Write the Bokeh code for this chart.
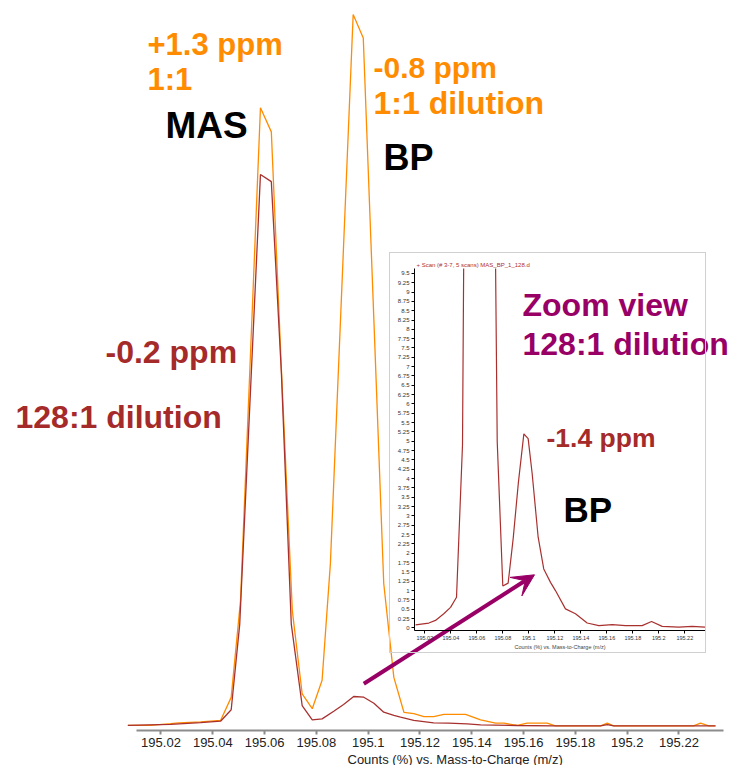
from bokeh.plotting import figure
from bokeh.models import (Range1d, LinearAxis, FixedTicker, NumeralTickFormatter,
                          Label, Arrow, VeeHead, Title)
from bokeh.embed import file_html
from bokeh.resources import INLINE

# ---------------- data (main chart, counts in % of base peak) ----------------
mz_1to1 = [195.0072, 195.0160, 195.0237, 195.0268, 195.0353, 195.0430, 195.0471,
           195.0507, 195.0584, 195.0626, 195.0665, 195.0707, 195.0745, 195.0784,
           195.0822, 195.0854, 195.0942, 195.0981, 195.1022, 195.1060, 195.1099,
           195.1138, 195.1176, 195.1215, 195.1253, 195.1292, 195.1376, 195.1434,
           195.1492, 195.1524, 195.1575, 195.1614, 195.1691, 195.1723, 195.1897,
           195.1923, 195.1948, 195.2256, 195.2283, 195.2315, 195.2341]
cnt_1to1 = [0.05, 0.05, 0.3, 0.42, 0.55, 0.75, 4.0,
            17.6, 86.9, 83.5, 50.0, 16.2, 4.5, 2.4,
            6.4, 22.8, 100.0, 96.7, 57.0, 20.0, 6.8,
            1.9, 1.7, 1.3, 1.3, 1.6, 1.6, 0.84,
            0.37, 0.37, 0.05, 0.37, 0.37, 0.0, 0.0,
            0.37, 0.0, 0.0, 0.37, 0.0, 0.0]

mz_128 = [195.0072, 195.0237, 195.0353, 195.0430, 195.0471, 195.0504, 195.0584,
          195.0626, 195.0665, 195.0703, 195.0745, 195.0784, 195.0822, 195.0867,
          195.0905, 195.0944, 195.0983, 195.1022, 195.1060, 195.1099, 195.1125,
          195.1176, 195.1253, 195.1310, 195.1382, 195.1434, 195.1575, 195.1717,
          195.1897, 195.1923, 195.1948, 195.2341]
cnt_128 = [0.05, 0.2, 0.45, 0.65, 2.25, 14.3, 77.5,
           76.5, 49.5, 14.3, 2.85, 0.84, 0.98, 2.05,
           3.0, 4.12, 4.02, 3.18, 1.91, 1.45, 1.21,
           0.75, 0.42, 0.37, 0.28, 0.14, 0.04, 0.0,
           0.0, 0.18, 0.0, 0.0]

# ---------------- data (zoom view, 128:1 dilution) ----------------
mz_zoom = [195.0129, 195.0231, 195.0282, 195.0346, 195.0398, 195.0444, 195.0490,
           195.0528, 195.0567, 195.0605, 195.0644, 195.0682, 195.0717, 195.0757,
           195.0800, 195.0841, 195.0880, 195.0920, 195.0962, 195.0995, 195.1026,
           195.1072, 195.1115, 195.1167, 195.1205, 195.1282, 195.1359, 195.1449,
           195.1539, 195.1642, 195.1744, 195.1872, 195.1944, 195.2026, 195.2154,
           195.2257, 195.2359]
cnt_zoom = [0.08, 0.13, 0.2, 0.38, 0.55, 0.82, 4.9,
            25.0, 80.0, 100.0, 85.0, 50.0, 20.0, 5.0,
            1.12, 1.2, 2.4, 3.9, 5.2, 5.07, 4.13,
            2.43, 1.58, 1.22, 1.0, 0.51, 0.38, 0.13,
            0.06, 0.09, 0.06, 0.06, 0.17, 0.04, 0.02,
            0.04, 0.02]

x_ticks = [195.02, 195.04, 195.06, 195.08, 195.10, 195.12, 195.14, 195.16,
           195.18, 195.20, 195.22]
zoom_y_ticks = [i * 0.25 for i in range(39)]
x_title = "Counts (%) vs. Mass-to-Charge (m/z)"

ORANGE = "#FF8C00"
RED = "#A8312F"
TXT_RED = "#A52A2A"
PURPLE = "#990066"
FONT = "Liberation Sans"

# ---------------- main figure ----------------
p = figure(frame_width=732, frame_height=730,
           x_range=Range1d(194.95803, 195.24066), y_range=Range1d(-0.66, 101.97),
           x_axis_location=None, y_axis_location=None,
           min_border_left=0, min_border_right=0, min_border_top=0,
           min_border_bottom=35, output_backend="svg", toolbar_location=None)
p.outline_line_color = None
for g in p.grid:
    g.visible = False

xa = LinearAxis(bounds=(195.0105, 195.2372), ticker=FixedTicker(ticks=x_ticks),
                formatter=NumeralTickFormatter(format="0.[00]"))
xa.axis_line_color = "#8c8c8c"
xa.axis_line_width = 2
xa.major_tick_line_color = "#8c8c8c"
xa.major_tick_line_width = 2
xa.major_tick_in = 0
xa.major_tick_out = 4
xa.minor_tick_out = 0
xa.major_label_text_font = FONT
xa.major_label_text_font_size = "13px"
xa.major_label_text_color = "#222222"
xa.major_label_standoff = 3
xa.major_label_text_line_height = 0.9
p.add_layout(xa, "below")
p.add_layout(Title(text=x_title, align="left", offset=347, standoff=0,
                   text_font=FONT, text_font_size="13px", text_line_height=0.8,
                   text_font_style="normal", text_color="#222222"), "below")

p.line(mz_1to1, cnt_1to1, line_color=ORANGE, line_width=1.3)
p.line(mz_128, cnt_128, line_color=RED, line_width=1.3)


def px(xpix):
    return 195.02 + (xpix - 160.5) / 2590.0


def py(ypix):
    return (725.3 - ypix) / 7.113


labels = [
    ("+1.3 ppm", 147, 44, ORANGE, "31px"),
    ("1:1", 147, 79, ORANGE, "31px"),
    ("MAS", 165, 125, "black", "37px"),
    ("-0.8 ppm", 373, 67, ORANGE, "30px"),
    ("1:1 dilution", 373, 102, ORANGE, "32px"),
    ("BP", 383, 157, "black", "36px"),
    ("-0.2 ppm", 105, 351, TXT_RED, "32px"),
    ("128:1 dilution", 15, 416, TXT_RED, "32px"),
    ("Zoom view", 522, 304, PURPLE, "32px"),
    ("128:1 dilution", 522, 343, PURPLE, "32px"),
    ("-1.4 ppm", 546, 437, TXT_RED, "26.5px"),
    ("BP", 563, 509, "black", "35px"),
]
for txt, lx, ly, col, size in labels:
    p.add_layout(Label(x=px(lx), y=py(ly), text=txt, text_font=FONT,
                       text_font_style="bold", text_font_size=size,
                       text_color=col, text_align="left",
                       text_baseline="alphabetic"))

p.add_layout(Arrow(end=VeeHead(size=22, fill_color=PURPLE, line_color=PURPLE),
                   x_start=px(363.3), y_start=py(683.3),
                   x_end=px(534), y_end=py(574.3),
                   line_color=PURPLE, line_width=4))

# ---------------- inset (zoom view) ----------------
q = figure(frame_width=291, frame_height=362,
           x_range=Range1d(195.01208, 195.23592), y_range=Range1d(-0.07, 9.63),
           x_axis_location=None, y_axis_location=None,
           min_border_left=24, min_border_right=0, min_border_top=15,
           min_border_bottom=21, output_backend="svg", toolbar_location=None,
           title="+ Scan (# 3-7, 5 scans) MAS_BP_1_128.d")
q.outline_line_color = None
q.background_fill_color = None
q.border_fill_color = None
for g in q.grid:
    g.visible = False
q.title.text_font = FONT
q.title.text_font_size = "6px"
q.title.text_font_style = "normal"
q.title.text_color = "#B03030"
q.title.align = "left"
q.title.offset = 2
q.title.standoff = 2

qx = LinearAxis(ticker=FixedTicker(ticks=x_ticks),
                formatter=NumeralTickFormatter(format="0.[00]"),
                axis_label=x_title)
qy = LinearAxis(ticker=FixedTicker(ticks=zoom_y_ticks),
                formatter=NumeralTickFormatter(format="0.[00]"))
for ax in (qx, qy):
    ax.axis_line_color = "black"
    ax.axis_line_width = 1
    ax.major_tick_line_color = "black"
    ax.major_tick_in = 0
    ax.major_tick_out = 3
    ax.minor_tick_out = 0
    ax.major_label_text_font = FONT
    ax.major_label_text_color = "#333333"
    ax.major_label_standoff = 2
qx.major_label_text_font_size = "5.5px"
qy.major_label_text_font_size = "6px"
qx.axis_label_text_font = FONT
qx.axis_label_text_font_size = "5.5px"
qx.axis_label_text_font_style = "normal"
qx.axis_label_standoff = 1
q.add_layout(qx, "below")
q.add_layout(qy, "left")

q.line(mz_zoom, cnt_zoom, line_color=RED, line_width=1.2)

q.styles = {"position": "absolute", "left": "389px", "top": "252px",
            "border": "1px solid #d0d0d0"}

open("out.html", "w").write(file_html([p, q], INLINE))
